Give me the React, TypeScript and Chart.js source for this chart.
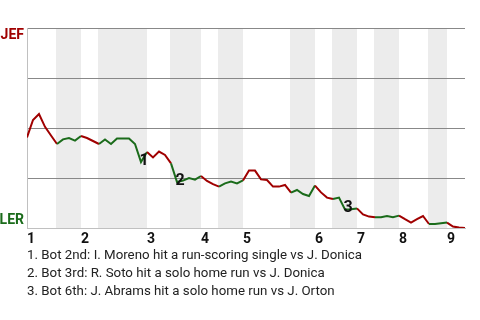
import React, { useEffect, useRef } from "react";
import { Chart, registerables } from "chart.js";

Chart.register(...registerables);

// Win probability for the top team (JEF) after each play, 0..1
const winProb = [
  0.453, 0.54, 0.57, 0.506, 0.4625, 0.42, 0.443, 0.45, 0.437, 0.46,
  0.45, 0.435, 0.42, 0.443, 0.42, 0.448, 0.448, 0.448, 0.42, 0.33,
  0.38, 0.353, 0.382, 0.365, 0.323, 0.23, 0.237, 0.25, 0.242, 0.26,
  0.235, 0.219, 0.207, 0.223, 0.232, 0.223, 0.238, 0.287, 0.287, 0.243,
  0.24, 0.207, 0.207, 0.215, 0.177, 0.19, 0.17, 0.16, 0.212, 0.178,
  0.152, 0.145, 0.152, 0.093, 0.094, 0.098, 0.068, 0.057, 0.054, 0.054,
  0.06, 0.054, 0.062, 0.044, 0.027, 0.044, 0.06, 0.02, 0.02, 0.024,
  0.027, 0.007, 0.002, 0,
];
const lastPlay = 73;

const inningLabels = ["1", "2", "3", "4", "5", "6", "7", "8", "9"];
const inningStarts = [0, 9, 20, 29, 36, 48, 55, 62, 70];
const bottomHalfStarts = [4.83, 11.83, 23.83, 31.83, 43.83, 50.83, 57.83, 66.83];
const bottomHalfEnds = [9, 20, 29, 36, 48, 55, 62, 70];

const eventPlays = [19, 25, 53];
const eventMarks = ["1", "2", "3"];
const eventTexts = [
  "1. Bot 2nd: I. Moreno hit a run-scoring single vs J. Donica",
  "2. Bot 3rd: R. Soto hit a solo home run vs J. Donica",
  "3. Bot 6th: J. Abrams hit a solo home run vs J. Orton",
];

const teamTop = "JEF";
const teamBottom = "LER";

const RED = "#a00000";
const GREEN = "#1a6b1a";

function isBottom(i: number) {
  return bottomHalfStarts.some((s, k) => i >= s && i < bottomHalfEnds[k]);
}

const bandsPlugin = {
  id: "halfInningBands",
  beforeDraw(chart: any) {
    const { ctx, chartArea, scales } = chart;
    const x = scales.x;
    ctx.save();
    ctx.fillStyle = "#ececec";
    bottomHalfStarts.forEach((s, k) => {
      const x0 = x.getPixelForValue(s);
      const x1 = x.getPixelForValue(bottomHalfEnds[k]);
      ctx.fillRect(x0, chartArea.top, x1 - x0, chartArea.bottom - chartArea.top);
    });
    ctx.restore();
  },
};

const marksPlugin = {
  id: "eventMarks",
  afterDatasetsDraw(chart: any) {
    const { ctx, scales } = chart;
    ctx.save();
    ctx.font = "bold 16px Roboto";
    ctx.fillStyle = "#111";
    ctx.textAlign = "center";
    ctx.textBaseline = "middle";
    eventPlays.forEach((p, k) => {
      ctx.fillText(
        eventMarks[k],
        scales.x.getPixelForValue(p) + 3,
        scales.y.getPixelForValue(winProb[p]) - 1
      );
    });
    ctx.restore();
  },
};

export default function App() {
  const ref = useRef<HTMLCanvasElement | null>(null);

  useEffect(() => {
    if (!ref.current) return;
    const chart = new Chart(ref.current, {
      type: "line",
      data: {
        datasets: [
          {
            data: winProb.map((v, i) => ({ x: i, y: v })),
            borderColor: RED,
            borderWidth: 2,
            pointRadius: 0,
            tension: 0,
            fill: false,
            segment: {
              borderColor: (c: any) => (isBottom(c.p0DataIndex) ? GREEN : RED),
            },
          },
        ],
      },
      options: {
        animation: false,
        responsive: false,
        layout: { padding: { top: 28, right: 15, bottom: 72, left: 0 } },
        plugins: {
          legend: { display: false },
          tooltip: { enabled: false },
        },
        scales: {
          x: {
            type: "linear",
            min: 0,
            max: lastPlay,
            grid: { display: false, drawTicks: false },
            border: { display: true, color: "#c0c0c0" },
            afterBuildTicks: (s: any) => {
              s.ticks = inningStarts.map((v) => ({ value: v }));
            },
            afterFit: (s: any) => {
              s.height = 20;
            },
            ticks: {
              autoSkip: false,
              maxRotation: 0,
              minRotation: 0,
              align: "start",
              padding: 3,
              color: "#111",
              font: { family: "Roboto", size: 14, weight: "bold" },
              callback: (v: any) => {
                const k = inningStarts.indexOf(Number(v));
                return k >= 0 ? inningLabels[k] : "";
              },
            },
          },
          y: {
            min: 0,
            max: 1,
            afterFit: (s: any) => {
              s.width = 27;
            },
            grid: {
              drawTicks: false,
              color: (c: any) => (c.tick && c.tick.value === 0 ? "#c0c0c0" : "#888888"),
            },
            border: { display: true, color: "#c0c0c0" },
            ticks: {
              stepSize: 0.25,
              autoSkip: false,
              padding: 3,
              color: (c: any) => (c.tick && c.tick.value === 1 ? RED : GREEN),
              font: { family: "Roboto", size: 14, weight: "bold", lineHeight: 1.05 },
              callback: (v: any) =>
                v === 1 ? ["", teamTop] : v === 0 ? [teamBottom, ""] : "",
            },
          },
        },
      } as any,
      plugins: [bandsPlugin, marksPlugin],
    });
    return () => chart.destroy();
  }, []);

  return (
    <div
      style={{
        position: "fixed",
        left: 0,
        top: 0,
        width: 480,
        height: 320,
        background: "#fff",
      }}
    >
      <canvas
        ref={ref}
        width={480}
        height={320}
        style={{ position: "absolute", left: 0, top: 0 }}
      />
      <div
        style={{
          position: "absolute",
          left: 27,
          top: 245.7,
          font: "13.3px Roboto",
          lineHeight: "18px",
          color: "#222",
          whiteSpace: "nowrap",
        }}
      >
        {eventTexts.map((t) => (
          <div key={t}>{t}</div>
        ))}
      </div>
    </div>
  );
}
